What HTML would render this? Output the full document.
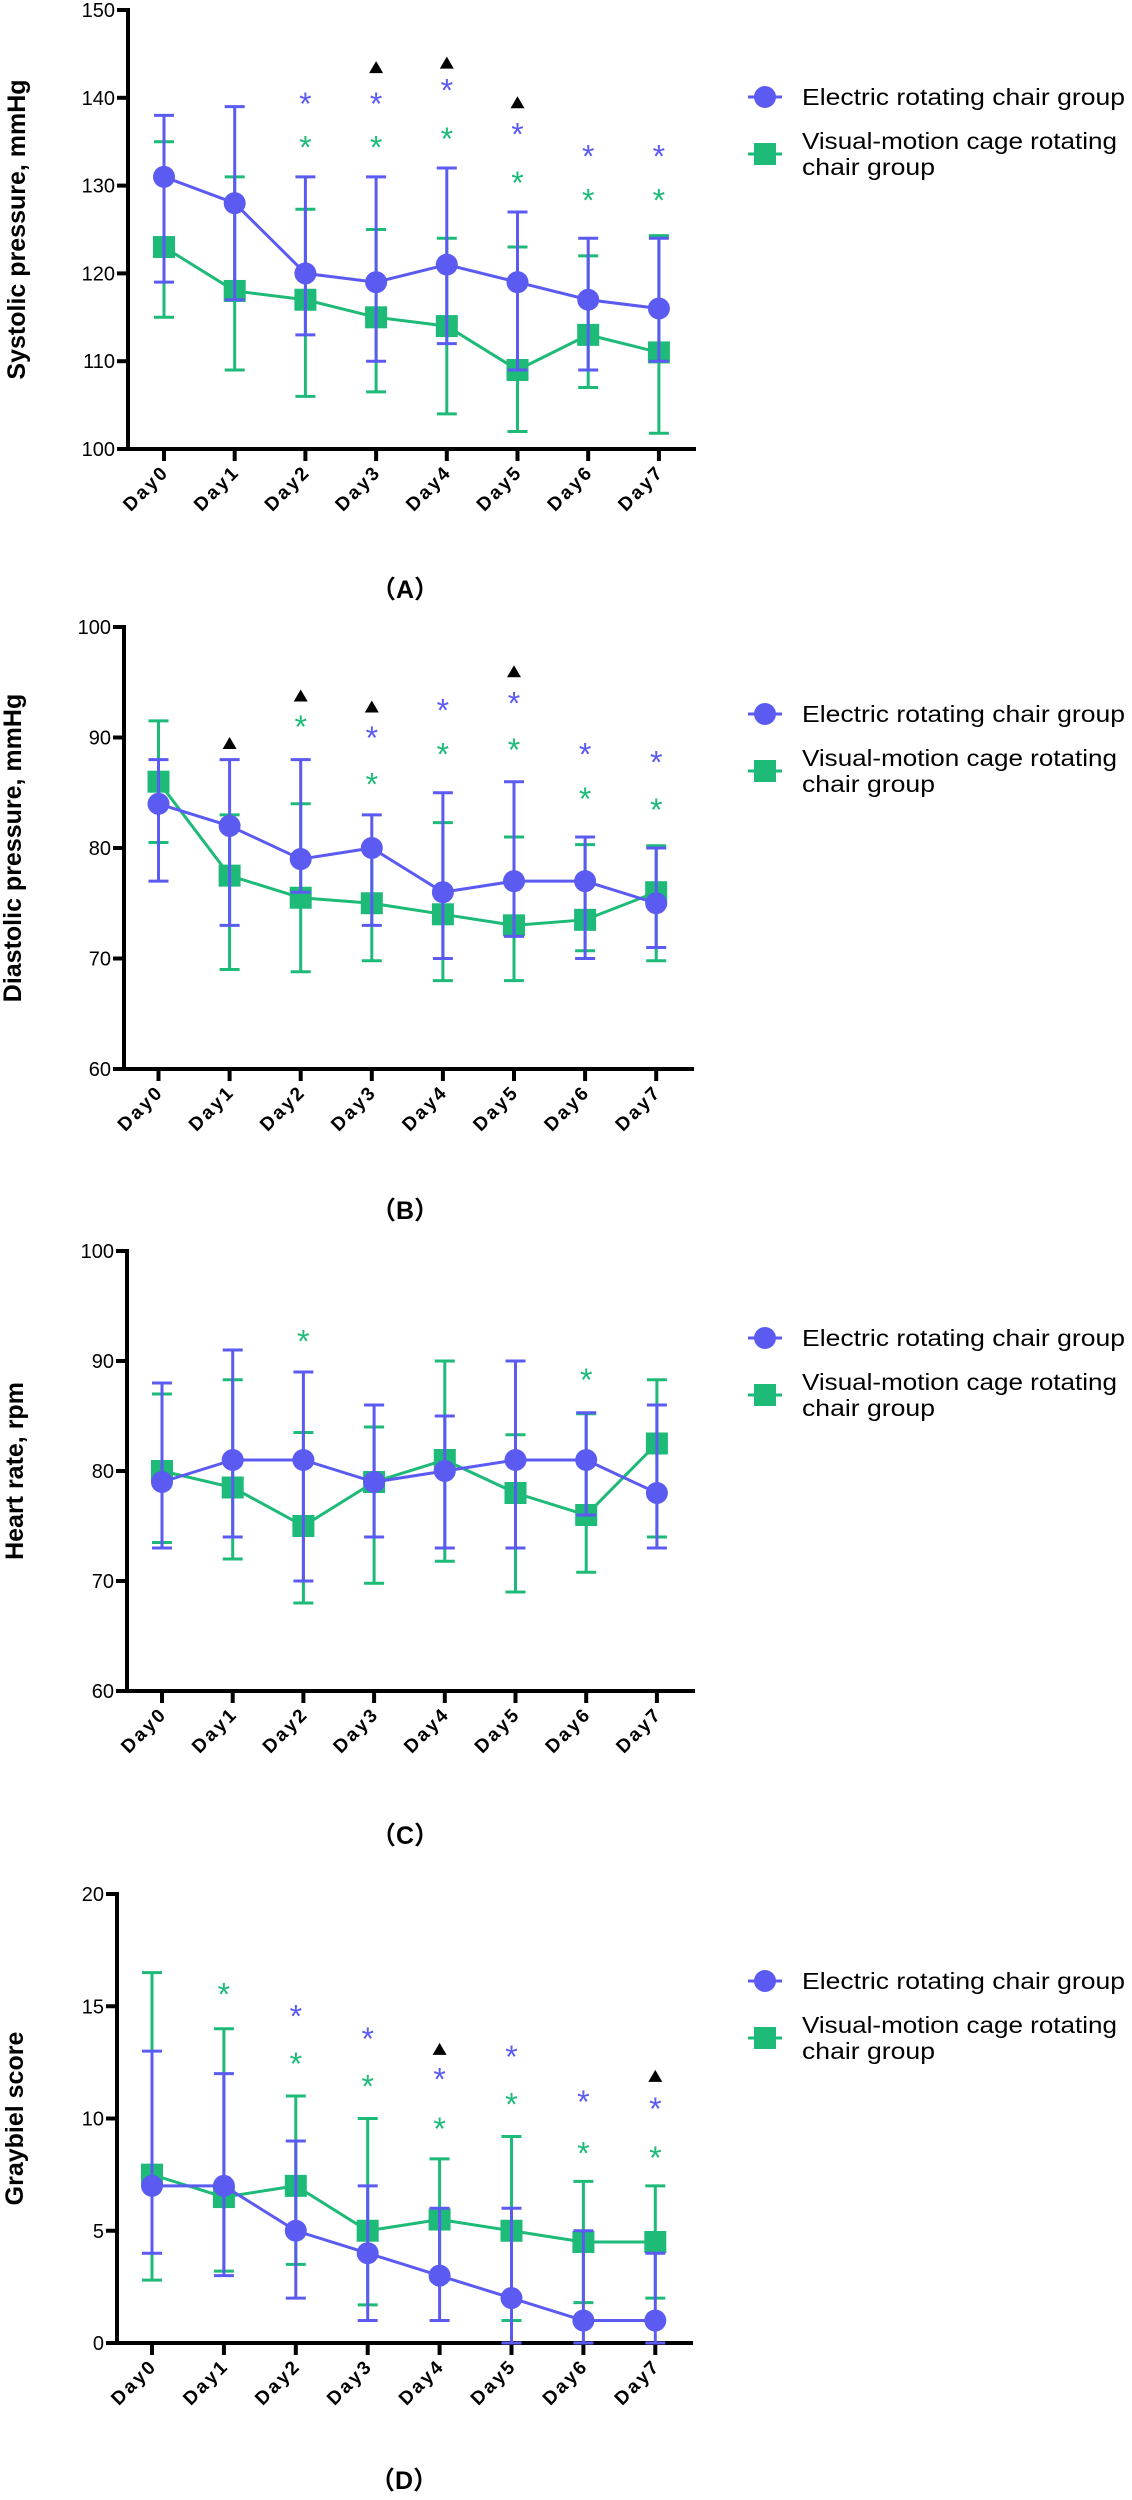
<!DOCTYPE html>
<html><head><meta charset="utf-8"><style>
html,body{margin:0;padding:0;background:#fff;}
svg{display:block;}
text{font-family:"Liberation Sans","Noto Sans CJK SC",sans-serif;}
</style></head><body>
<svg id="fig" width="1132" height="2500" viewBox="0 0 1132 2500"></svg>
<script>
const days = ["Day0","Day1","Day2","Day3","Day4","Day5","Day6","Day7"];
// Panel A: systolic
const sysElecMean = [131,128,120,119,121,119,117,116];
const sysElecLo = [119,117,113,110,112,109,109,110];
const sysElecHi = [138,139,131,131,132,127,124,124];
const sysVisMean = [123,118,117,115,114,109,113,111];
const sysVisLo = [115,109,106,106.5,104,102,107,101.8];
const sysVisHi = [135,131,127.3,125,124,123,122,124.3];
const sysTicks = [100,110,120,130,140,150];
const sysTri = [null,null,null,143.5,144,139.5,null,null];
const sysStarE = [null,null,140,140,141.5,136.5,134,134];
const sysStarV = [null,null,135,135,136,131,129,129];
// Panel B: diastolic
const diaElecMean = [84,82,79,80,76,77,77,75];
const diaElecLo = [77,73,76,73,70,72,70,71];
const diaElecHi = [88,88,88,83,85,86,81,80];
const diaVisMean = [86,77.5,75.5,75,74,73,73.5,76];
const diaVisLo = [80.5,69,68.8,69.8,68,68,70.7,69.8];
const diaVisHi = [91.5,83,84,80,82.3,81,80.3,80.2];
const diaTicks = [60,70,80,90,100];
const diaTri = [null,89.5,93.8,92.8,null,96,null,null];
const diaStarE = [null,null,null,90.5,93,93.6,89,88.3];
const diaStarV = [null,null,91.5,86.3,89,89.4,85,84];
// Panel C: heart rate
const hrElecMean = [79,81,81,79,80,81,81,78];
const hrElecLo = [73,74,70,74,73,73,76,73];
const hrElecHi = [88,91,89,86,85,90,85.3,86];
const hrVisMean = [80,78.5,75,79,81,78,76,82.5];
const hrVisLo = [73.5,72,68,69.8,71.8,69,70.8,74];
const hrVisHi = [87,88.3,83.5,84,90,83.3,85.2,88.3];
const hrTicks = [60,70,80,90,100];
const hrTri = [null,null,null,null,null,null,null,null];
const hrStarE = [null,null,null,null,null,null,null,null];
const hrStarV = [null,null,92.3,null,null,null,88.8,null];
// Panel D: Graybiel
const grElecMean = [7,7,5,4,3,2,1,1];
const grElecLo = [4,3,2,1,1,0,0,0];
const grElecHi = [13,12,9,7,6,6,5,4];
const grVisMean = [7.5,6.5,7,5,5.5,5,4.5,4.5];
const grVisLo = [2.8,3.2,3.5,1.7,2.8,1,1.8,2];
const grVisHi = [16.5,14,11,10,8.2,9.2,7.2,7];
const grTicks = [0,5,10,15,20];
const grTri = [null,null,null,null,13.1,null,null,11.9];
const grStarE = [null,null,14.8,13.8,12,13,11,10.7];
const grStarV = [null,15.8,12.7,11.7,9.8,10.9,8.7,8.5];

const BLUE="#5b5bf2", GREEN="#1dba78";
const NS="http://www.w3.org/2000/svg";
const svg=document.getElementById('fig');
function mk(tag,attrs,parent){const e=document.createElementNS(NS,tag);for(const k in attrs)e.setAttribute(k,attrs[k]);(parent||svg).appendChild(e);return e;}

function panel(p){
  const g=mk('g',{});
  
  
  const yMin=p.ticks[0], yMax=p.ticks[p.ticks.length-1];
  const ys=v=>p.bot-(v-yMin)/(yMax-yMin)*(p.bot-p.top);
  const xs=i=>p.x0+i*p.step;
  const ya=mk('line',{x1:p.ax,y1:p.top-2,x2:p.ax,y2:p.bot+2,stroke:'#000','stroke-width':4},g);
  
  
  const xa=mk('line',{x1:p.ax-2,y1:p.bot,x2:p.end,y2:p.bot,stroke:'#000','stroke-width':4},g);
  
  
  p.ticks.forEach(t=>{
    mk('line',{x1:p.ax-11,y1:ys(t),x2:p.ax,y2:ys(t),stroke:'#000','stroke-width':4},g);
    const tl=mk('text',{x:p.ax-13,y:ys(t)+7,'text-anchor':'end','font-size':20,fill:'#000'},g);
    tl.textContent=t;
    
    
  });
  days.forEach((d,i)=>{
    mk('line',{x1:xs(i),y1:p.bot,x2:xs(i),y2:p.bot+12,stroke:'#000','stroke-width':4},g);
    const tx=xs(i)+6, ty=p.bot+24;
    const t=mk('text',{x:tx,y:ty,'text-anchor':'end','font-size':19,'font-weight':'bold','letter-spacing':2.5,fill:'#000',transform:`rotate(-45 ${tx} ${ty})`},g);
    t.textContent=d;
    
    
  });
  const cy=(p.top+p.bot)/2;
  const yt=mk('text',{x:p.titleX,y:cy,'text-anchor':'middle','font-size':25,'font-weight':'bold',fill:'#000',transform:`rotate(-90 ${p.titleX} ${cy})`},g);
  yt.textContent=p.title;
  
  
  function series(mean,lo,hi,color,shape,name){
    const sg=mk('g',{},g);
    
    
    mean.forEach((m,i)=>{
      const x=xs(i);
      mk('line',{x1:x,y1:ys(lo[i]),x2:x,y2:ys(hi[i]),stroke:color,'stroke-width':3},sg);
      mk('line',{x1:x-10,y1:ys(lo[i]),x2:x+10,y2:ys(lo[i]),stroke:color,'stroke-width':3},sg);
      mk('line',{x1:x-10,y1:ys(hi[i]),x2:x+10,y2:ys(hi[i]),stroke:color,'stroke-width':3},sg);
    });
    const pts=mean.map((m,i)=>xs(i)+','+ys(m)).join(' ');
    const pl=mk('polyline',{points:pts,fill:'none',stroke:color,'stroke-width':3},sg);
    
    
    mean.forEach((m,i)=>{
      let e;
      if(shape==='c') e=mk('circle',{cx:xs(i),cy:ys(m),r:11,fill:color},sg);
      else e=mk('rect',{x:xs(i)-11,y:ys(m)-11,width:22,height:22,fill:color},sg);
      
      
    });
  }
  series(p.vm,p.vl,p.vh,GREEN,'s','visual-motion-series');
  series(p.em,p.el,p.eh,BLUE,'c','electric-series');
  days.forEach((d,i)=>{
    if(p.tri[i]!=null){const x=xs(i),y=ys(p.tri[i]);
      const tr=mk('polygon',{points:`${x-7},${y+6} ${x+7},${y+6} ${x},${y-6}`,fill:'#000'},g);
      
      }
    [[p.se,BLUE],[p.sv,GREEN]].forEach(([arr,c])=>{
      if(arr[i]!=null){
        const s=mk('text',{x:xs(i),y:ys(arr[i])+17,'text-anchor':'middle','font-size':32,fill:c},g);
        s.textContent='*';
        
        
      }
    });
  });
  const lg=mk('g',{},g);
  
  
  const r1=p.top+87;
  mk('line',{x1:748,y1:r1,x2:782,y2:r1,stroke:BLUE,'stroke-width':3},lg);
  const lc=mk('circle',{cx:765,cy:r1,r:11,fill:BLUE},lg);
  
  
  const t1=mk('text',{x:802,y:r1+8,'font-size':23,fill:'#000',textLength:323,lengthAdjust:'spacingAndGlyphs'},lg);
  t1.textContent='Electric rotating chair group';
  
  
  const r2=r1+57;
  mk('line',{x1:748,y1:r2,x2:782,y2:r2,stroke:GREEN,'stroke-width':3},lg);
  const ls=mk('rect',{x:754,y:r2-11,width:22,height:22,fill:GREEN},lg);
  
  
  const t2=mk('text',{x:802,y:r1+52,'font-size':23,fill:'#000',textLength:315,lengthAdjust:'spacingAndGlyphs'},lg);
  t2.textContent='Visual-motion cage rotating';
  
  
  const t3=mk('text',{x:802,y:r1+78,'font-size':23,fill:'#000',textLength:133,lengthAdjust:'spacingAndGlyphs'},lg);
  t3.textContent='chair group';
  
  
  const pl=mk('text',{x:p.labX,y:p.labY+9,'text-anchor':'middle','font-size':25,'font-weight':'bold',fill:'#000'},g);
  pl.textContent='（'+p.id+'）';
  
  
}

panel({id:'A',top:10,bot:449,ax:128,x0:164,step:70.7,end:696,ticks:sysTicks,title:'Systolic pressure, mmHg',titleX:25,
  em:sysElecMean,el:sysElecLo,eh:sysElecHi,vm:sysVisMean,vl:sysVisLo,vh:sysVisHi,tri:sysTri,se:sysStarE,sv:sysStarV,labX:405,labY:589});
panel({id:'B',top:627,bot:1069,ax:124,x0:158.5,step:71.1,end:694,ticks:diaTicks,title:'Diastolic pressure, mmHg',titleX:21,
  em:diaElecMean,el:diaElecLo,eh:diaElecHi,vm:diaVisMean,vl:diaVisLo,vh:diaVisHi,tri:diaTri,se:diaStarE,sv:diaStarV,labX:405,labY:1210});
panel({id:'C',top:1251,bot:1691,ax:127,x0:162,step:70.7,end:695,ticks:hrTicks,title:'Heart rate, rpm',titleX:23,
  em:hrElecMean,el:hrElecLo,eh:hrElecHi,vm:hrVisMean,vl:hrVisLo,vh:hrVisHi,tri:hrTri,se:hrStarE,sv:hrStarV,labX:405,labY:1835});
panel({id:'D',top:1894,bot:2343,ax:117,x0:152,step:71.9,end:693,ticks:grTicks,title:'Graybiel score',titleX:23,
  em:grElecMean,el:grElecLo,eh:grElecHi,vm:grVisMean,vl:grVisLo,vh:grVisHi,tri:grTri,se:grStarE,sv:grStarV,labX:404,labY:2480});
</script>
</body></html>
